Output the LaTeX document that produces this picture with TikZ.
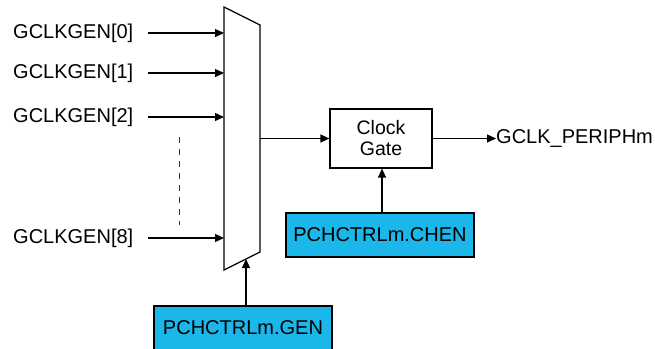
\documentclass[tikz,border=0pt]{standalone}
\usepackage{fontspec}
\setmainfont{Liberation Sans}
\usetikzlibrary{arrows.meta,calc}
\definecolor{regblue}{RGB}{27,182,234}
\begin{document}
\begin{tikzpicture}[x=1pt,y=1pt,
  txt/.style={font=\fontsize{20}{21}\selectfont, inner sep=0pt},
  arr/.style={-{Triangle[length=9pt,width=8pt]}, line width=1.2pt},
  ln/.style={line width=1.2pt},
  regbox/.style={draw, line width=1.2pt, fill=regblue, minimum height=44pt, inner sep=0pt, font=\fontsize{20}{21}\selectfont},
  gatebox/.style={draw, line width=1.2pt, fill=white, minimum width=102pt, minimum height=59pt, inner sep=0pt, align=center, font=\fontsize{19.5}{21}\selectfont}]
\useasboundingbox (0,0) rectangle (655,348);
% mux corners
\coordinate (mTL) at (224,341);
\coordinate (mTR) at (260,323);
\coordinate (mBR) at (260,96);
\coordinate (mBL) at (224,78);
\draw[ln, line join=miter] (mTL) -- (mTR) -- (mBR) -- (mBL) -- cycle;
% input labels
\node[txt, anchor=west] (g0) at (13,315) {GCLKGEN[0]};
\node[txt, anchor=west] (g1) at (13,275) {GCLKGEN[1]};
\node[txt, anchor=west] (g2) at (13,231) {GCLKGEN[2]};
\node[txt, anchor=west] (g8) at (13,110) {GCLKGEN[8]};
\foreach \n in {g0,g1,g2,g8}{
  \draw[arr] (148,0 |- \n.west) -- (224,0 |- \n.west);
}
% dashed ellipsis
\coordinate (dTop) at (179,211);
\coordinate (dBot) at (179,123);
\draw[line width=1pt, draw=black!80, dash pattern=on 6pt off 6pt] (dTop) -- (dBot);
% clock gate
\node[gatebox] (cg) at (381,209.5) {Clock\\Gate};
\coordinate (mOut) at (260,209.5);
\draw[arr] (mOut) -- (cg.west);
\node[txt, anchor=west] (out) at (496,209.5) {GCLK\_PERIPHm};
\draw[arr] (cg.east) -- (out.west);
% registers
\node[regbox, minimum width=188pt] (chen) at (380,113) {PCHCTRLm.CHEN};
\draw[arr] (chen.north -| 382,0) -- (cg.south -| 382,0);
\node[regbox, minimum width=178pt] (gen) at (243,20) {PCHCTRLm.GEN};
\coordinate (mSel) at (246,89);
\draw[arr] (gen.north -| mSel) -- (mSel);
\end{tikzpicture}
\end{document}
